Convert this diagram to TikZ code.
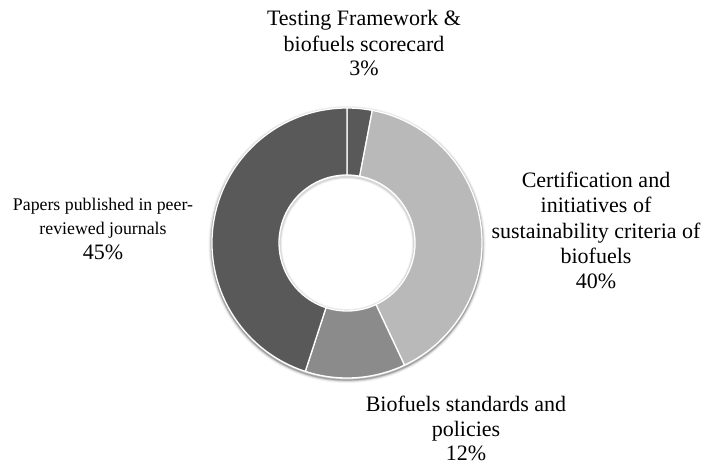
\documentclass[tikz,border=0pt]{standalone}
\usepackage{fontspec}
\setmainfont{Liberation Serif}
\definecolor{darkseg}{HTML}{595959}
\definecolor{lightseg}{HTML}{B9B9B9}
\definecolor{midseg}{HTML}{8B8B8B}
\definecolor{txt}{HTML}{000000}
\newcommand{\donutseg}[3]{%
  \fill[#3, draw=white, line width=1.3pt]
    (347,222) ++(#1:135) arc[start angle=#1, end angle=#2, radius=135]
    -- ($(347,222)+(#2:68)$) arc[start angle=#2, end angle=#1, radius=68] -- cycle;}
\usetikzlibrary{calc}
\begin{document}
\begin{tikzpicture}[x=1pt,y=1pt,
  big/.style={font=\fontsize{22}{26}\selectfont, inner sep=0pt, anchor=base, text=txt},
  small/.style={font=\fontsize{17.8}{22}\selectfont, inner sep=0pt, anchor=base, text=txt}]
\useasboundingbox (0,0) rectangle (704,465);
% soft shadow
\foreach \w/\o in {6/0.05,4/0.08,2.5/0.12,1.2/0.18}
  \draw[black, opacity=\o, line width=\w pt] (347,220.5) circle[radius=135.5];
\foreach \w/\o in {4/0.06,2/0.10}
  \draw[black, opacity=\o, line width=\w pt] (347,221) circle[radius=67];
% segments
\donutseg{90}{79.2}{darkseg}
\donutseg{79.2}{-64.8}{lightseg}
\donutseg{-64.8}{-108}{midseg}
\donutseg{-108}{-270}{darkseg}
% top label
\node[big] (t1) at (364,439) {Testing Framework \&};
\node[big] (t2) at (364,413) {biofuels scorecard};
\node[big] (t3) at (364,389) {3\%};
% right label
\node[big] (r1) at (596,277) {Certification and};
\node[big] (r2) at (596,252) {initiatives of};
\node[big] (r3) at (596,226) {sustainability criteria of};
\node[big] (r4) at (596,201) {biofuels};
\node[big] (r5) at (596,176) {40\%};
% bottom label
\node[big] (b1) at (466,53) {Biofuels standards and};
\node[big] (b2) at (466,28) {policies};
\node[big] (b3) at (466,4) {12\%};
% left label
\node[small] (l1) at (103,254) {Papers published in peer-};
\node[small] (l2) at (103,230) {reviewed journals};
\node[big] (l3) at (103,205) {45\%};
\end{tikzpicture}
\end{document}
